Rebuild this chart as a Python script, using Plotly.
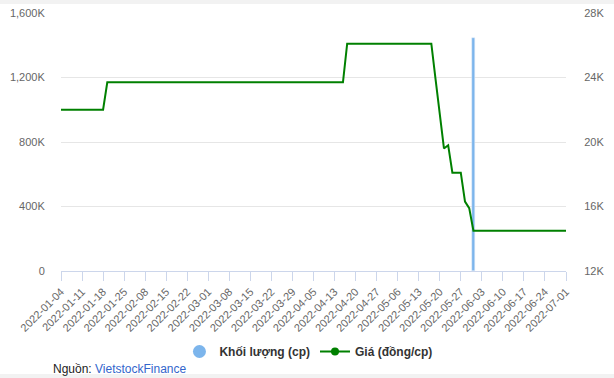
import pandas as pd
import plotly.graph_objects as go

# Trading-day categories (HOSE calendar, Jan 4 – Jul 1 2022)
holidays = ["2022-01-31", "2022-02-01", "2022-02-02", "2022-02-03", "2022-02-04",
            "2022-04-11", "2022-05-02", "2022-05-03"]
dates = [d.strftime("%Y-%m-%d") for d in
         pd.bdate_range("2022-01-04", "2022-07-01", freq="C", holidays=holidays)]

# Price (đồng/cp), one value per trading day
price = [
    22000, 22000, 22000, 22000, 22000, 22000, 22000, 22000, 22000, 22000, 22000,
    23700, 23700, 23700, 23700, 23700, 23700, 23700, 23700, 23700, 23700,
    23700, 23700, 23700, 23700, 23700, 23700, 23700, 23700, 23700, 23700,
    23700, 23700, 23700, 23700, 23700, 23700, 23700, 23700, 23700, 23700,
    23700, 23700, 23700, 23700, 23700, 23700, 23700, 23700, 23700, 23700,
    23700, 23700, 23700, 23700, 23700, 23700, 23700, 23700, 23700, 23700,
    23700, 23700, 23700, 23700, 23700, 23700, 23700,
    26100, 26100, 26100, 26100, 26100, 26100, 26100, 26100, 26100, 26100,
    26100, 26100, 26100, 26100, 26100, 26100, 26100, 26100, 26100, 26100, 26100,
    23900, 21700, 19600, 19800, 18100, 18100, 18100, 16300, 15900,
    14500, 14500, 14500, 14500, 14500, 14500, 14500, 14500, 14500, 14500,
    14500, 14500, 14500, 14500, 14500, 14500, 14500, 14500, 14500, 14500,
    14500, 14500, 14500,
]

# Volume (cp): only one session with trades
volume_dates = ["2022-06-01"]
volume_values = [1445000]

tick_dates = dates[::5]
left_ticks = [0, 400000, 800000, 1200000, 1600000]
left_labels = ["0", "400K", "800K", "1,200K", "1,600K"]
right_ticks = [12000, 16000, 20000, 24000, 28000]
right_labels = ["12K", "16K", "20K", "24K", "28K"]

BLUE = "#7cb5ec"
GREEN = "#008000"
FONT = "Liberation Sans, Arial, sans-serif"

fig = go.Figure()
fig.add_trace(go.Bar(x=volume_dates, y=volume_values, marker_color=BLUE,
                     width=0.6, showlegend=False, yaxis="y"))
fig.add_trace(go.Scatter(x=dates, y=price, mode="lines",
                         line=dict(color=GREEN, width=2), showlegend=False,
                         yaxis="y2"))
# legend entries
fig.add_trace(go.Scatter(x=[None], y=[None], mode="markers", name="<b>Khối lượng (cp)</b>",
                         marker=dict(color=BLUE, size=13, symbol="circle")))
fig.add_trace(go.Scatter(x=[None], y=[None], mode="lines+markers", name="<b>Giá (đồng/cp)</b>",
                         line=dict(color=GREEN, width=2),
                         marker=dict(color=GREEN, size=8, symbol="circle"), yaxis="y2"))

fig.update_layout(
    width=614, height=378,
    margin=dict(l=61, r=48, t=13, b=107, autoexpand=False),
    paper_bgcolor="white", plot_bgcolor="white",
    font=dict(family=FONT, size=11, color="#666666"),
    bargap=0,
    xaxis=dict(type="category", categoryorder="array", categoryarray=dates,
               range=[0, len(dates) - 1], tickmode="array", tickvals=tick_dates,
               ticktext=tick_dates, tickangle=-45, showgrid=False,
               showline=True, linecolor="#ccd6eb", linewidth=1,
               ticks="outside", ticklen=9, tickcolor="#ccd6eb",
               tickfont=dict(size=11, color="#666666"), zeroline=False,
               automargin=False),
    yaxis=dict(range=[0, 1600000], tickmode="array", tickvals=left_ticks,
               ticktext=left_labels, showgrid=True, gridcolor="#e6e6e6",
               zeroline=False, ticks="outside", ticklen=13,
               tickcolor="rgba(0,0,0,0)", tickfont=dict(size=11, color="#666666"),
               fixedrange=True, automargin=False),
    yaxis2=dict(range=[12000, 28000], overlaying="y", side="right",
                tickmode="array", tickvals=right_ticks, ticktext=right_labels,
                showgrid=False, zeroline=False, ticks="outside", ticklen=15,
                tickcolor="rgba(0,0,0,0)", tickfont=dict(size=11, color="#666666"),
                automargin=False),
    legend=dict(orientation="h", x=0.49, xanchor="center", y=-0.312, yanchor="middle",
                font=dict(size=12, color="#333333", family=FONT),
                bgcolor="rgba(0,0,0,0)", itemclick=False),
    shapes=[
        dict(type="rect", xref="paper", yref="paper", x0=-0.2, x1=1.2,
             y0=(271 - 4) / 258, y1=1.2, fillcolor="#f2f2f2", line_width=0,
             layer="below"),
        dict(type="rect", xref="paper", yref="paper", x0=-0.2, x1=1.2,
             y0=-0.6, y1=(271 - 374) / 258, fillcolor="#f2f2f2", line_width=0,
             layer="below"),
    ],
    annotations=[
        dict(xref="paper", yref="paper", x=(51 - 61) / 505, y=(271 - 369) / 258,
             xanchor="left", yanchor="middle", showarrow=False,
             text="Nguồn: <span style='color:#3366cc'>VietstockFinance</span>",
             font=dict(size=12, color="#222222", family=FONT)),
    ],
)

fig.write_html("out.html")
